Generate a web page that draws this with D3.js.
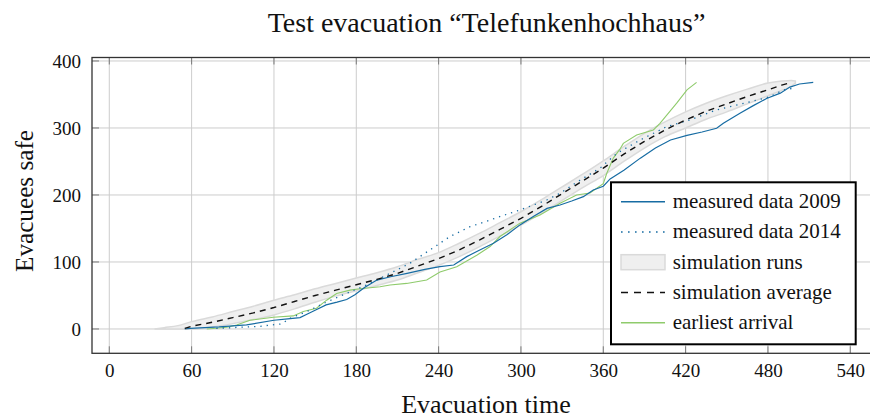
<!DOCTYPE html>
<html>
<head>
<meta charset="utf-8">
<script src="https://cdn.jsdelivr.net/npm/d3@7"></script>
<style>
  html, body { margin: 0; padding: 0; background: #fff; }
  svg { display: block; }
  text { font-family: "Liberation Serif", "Times New Roman", serif; fill: #111; }
</style>
</head>
<body>
<svg id="chart" width="870" height="419"></svg>
<script>
// ---------- data ----------
const xTicks = [0, 60, 120, 180, 240, 300, 360, 420, 480, 540];
const yTicks = [0, 100, 200, 300, 400];

const m2009Time = [55, 59, 80, 100, 120, 130, 139, 144, 150, 158, 166, 173, 179, 186, 195, 205, 217, 230, 241, 251, 260.5, 270, 280, 290, 299, 309, 319, 328.5, 337, 345.5, 352.7, 360, 365, 375, 387, 398, 409, 421, 432, 442.6, 447.5, 459.6, 469, 479, 489, 496, 503, 513];
const m2009Safe = [0, 1, 3, 6, 13, 15, 17, 22, 28, 36, 40, 44, 51, 62, 73, 78, 83, 89, 93, 95.5, 108, 118, 128, 141, 155, 168, 180, 185, 191, 197.5, 207.5, 213, 224, 237, 255, 270, 282, 289, 294, 299.5, 307, 322, 333, 344, 352, 361, 365.7, 368];

const m2014Time = [78, 90, 100, 110, 118, 125.6, 131.7, 145, 156, 170.5, 187.6, 204.6, 219, 233.7, 248.3, 262.9, 273.8, 285, 299.3, 318.8, 328.5, 343, 357.6, 369.8, 386.8, 406.2, 423.2, 442.6, 467, 481.5, 491.2, 497.3];
const m2014Safe = [1, 2, 3, 4, 6, 7.5, 16, 27, 38, 51, 65.7, 83, 98, 118, 138, 152.7, 160, 168, 177.6, 192.5, 202.5, 222, 240, 262, 282, 302, 312, 327, 339, 346.7, 356.7, 359];

const simTime = [33, 40, 50, 60, 75, 90, 105, 120, 135, 150, 165, 180, 195, 210, 225, 240, 255, 270, 285, 300, 315, 330, 345, 360, 375, 390, 405, 420, 435, 450, 465, 480, 490, 497, 500];
const simLow  = [0, 0, 0, 0, 3, 8, 14, 21, 30, 40, 49, 57, 65, 73, 84, 95, 108, 123, 139, 155, 173, 192, 211, 229, 250, 270, 287, 300, 313, 324, 336, 348, 356, 362, 367];
const simHigh = [0, 2, 5, 11, 18, 26, 34, 43, 51, 60, 68, 76, 84, 93, 104, 114, 128, 143, 159, 175, 193, 212, 231, 251, 272, 292, 309, 324, 337, 348, 358, 367, 370, 371, 370];

const avgTime = [55, 60, 75, 90, 105, 120, 135, 150, 165, 180, 195, 210, 225, 240, 255, 270, 285, 300, 315, 330, 345, 360, 375, 390, 405, 420, 435, 450, 465, 480, 490, 497];
const avgSafe = [1, 4, 10, 17, 24, 32, 41, 50, 58, 66, 74, 83, 94, 105, 118, 133, 149, 165, 183, 202, 221, 240, 261, 280, 297, 312, 325, 336, 347, 357, 364, 368];

const earlyTime = [71, 78, 85.5, 92.8, 102.5, 119.5, 134, 141.4, 151, 158.4, 165.7, 175.4, 182.7, 197.3, 204.6, 216.7, 231.3, 241, 253.2, 267.8, 277.5, 284.7, 299.3, 313.9, 328.5, 340.6, 350.3, 360, 362.5, 367.3, 372, 374.6, 384.3, 396.5, 401.3, 413.5, 421, 428];
const earlySafe = [0, 1, 2.5, 6, 13, 17.5, 19.5, 26, 31, 43, 53, 58, 60, 63, 65.7, 68, 73, 85, 93, 110, 123, 138, 158, 170, 187.6, 200, 203, 217, 232, 255, 268, 277, 289.5, 297, 307, 337, 357, 368];

const legendLabels = ["measured data 2009", "measured data 2014", "simulation runs", "simulation average", "earliest arrival"];
const titleText = "Test evacuation \u201CTelefunkenhochhaus\u201D";
const xLabel = "Evacuation time";
const yLabel = "Evacuees safe";

// ---------- styles ----------
const blue = "#176ca3";
const green = "#8fcb6c";

// ---------- layout ----------
const L = 92, R = 871, T = 57.5, B = 353.3;
const x = d3.scaleLinear().domain([-12.6, 555.1]).range([L, R]);
const y = d3.scaleLinear().domain([-36.3, 405.2]).range([B, T]);

const svg = d3.select("#chart");

svg.append("defs").append("clipPath").attr("id", "clip")
  .append("rect").attr("x", L).attr("y", T).attr("width", R - L).attr("height", B - T);

// grid
const grid = svg.append("g");
grid.selectAll(".gx").data(xTicks).join("line")
  .attr("x1", d => x(d)).attr("x2", d => x(d)).attr("y1", T).attr("y2", B)
  .attr("stroke", "#cdcdcd").attr("stroke-width", 1);
grid.selectAll(".gy").data(yTicks).join("line")
  .attr("x1", L).attr("x2", R).attr("y1", d => y(d)).attr("y2", d => y(d))
  .attr("stroke", "#cdcdcd").attr("stroke-width", 1);

// inward ticks
const tk = 7;
const ticks = svg.append("g").attr("stroke", "#7a7a7a").attr("stroke-width", 1);
ticks.selectAll(".tb").data(xTicks).join("line")
  .attr("x1", d => x(d)).attr("x2", d => x(d)).attr("y1", B).attr("y2", B - tk);
ticks.selectAll(".tt").data(xTicks).join("line")
  .attr("x1", d => x(d)).attr("x2", d => x(d)).attr("y1", T).attr("y2", T + tk);
ticks.selectAll(".tl").data(yTicks).join("line")
  .attr("x1", L).attr("x2", L + tk).attr("y1", d => y(d)).attr("y2", d => y(d));

// data
const plot = svg.append("g").attr("clip-path", "url(#clip)");

const bandData = simTime.map((t, i) => ({ t, lo: simLow[i], hi: simHigh[i] }));
plot.append("path").datum(bandData)
  .attr("d", d3.area().x(d => x(d.t)).y0(d => y(d.lo)).y1(d => y(d.hi)).curve(d3.curveMonotoneX))
  .attr("fill", "#efefef").attr("stroke", "#dadada").attr("stroke-width", 1.5);

const line = d3.line().x(d => x(d[0])).y(d => y(d[1]));
const zip = (a, b) => a.map((v, i) => [v, b[i]]);

plot.append("path").datum(zip(earlyTime, earlySafe)).attr("d", line)
  .attr("fill", "none").attr("stroke", green).attr("stroke-width", 1.1);

plot.append("path").datum(zip(m2014Time, m2014Safe)).attr("d", line)
  .attr("fill", "none").attr("stroke", blue).attr("stroke-width", 1.3)
  .attr("stroke-dasharray", "1.3,5").attr("stroke-linecap", "butt");

plot.append("path").datum(zip(m2009Time, m2009Safe)).attr("d", line)
  .attr("fill", "none").attr("stroke", blue).attr("stroke-width", 1.2);

plot.append("path").datum(zip(avgTime, avgSafe)).attr("d", line)
  .attr("fill", "none").attr("stroke", "#111").attr("stroke-width", 1.4)
  .attr("stroke-dasharray", "6,5");

// frame
svg.append("rect").attr("x", L).attr("y", T).attr("width", R - L).attr("height", B - T)
  .attr("fill", "none").attr("stroke", "#333").attr("stroke-width", 1.3);

// axes labels via d3 axes
const xAxis = svg.append("g").attr("transform", `translate(0,${B})`)
  .call(d3.axisBottom(x).tickValues(xTicks).tickSize(0).tickPadding(24).tickFormat(d3.format("d")));
xAxis.select(".domain").remove();
xAxis.selectAll("text").attr("font-size", 19).attr("font-family", "Liberation Serif").attr("fill", "#111")
  .attr("dy", 0).attr("y", 24);

const yAxis = svg.append("g").attr("transform", `translate(${L},0)`)
  .call(d3.axisLeft(y).tickValues(yTicks).tickSize(0).tickPadding(11).tickFormat(d3.format("d")));
yAxis.select(".domain").remove();
yAxis.selectAll("text").attr("font-size", 19).attr("font-family", "Liberation Serif").attr("fill", "#111")
  .attr("dy", "0.34em");

// title & labels
svg.append("text").attr("x", 486.5).attr("y", 32).attr("text-anchor", "middle")
  .attr("font-size", 28).text(titleText);
svg.append("text").attr("x", 486).attr("y", 413).attr("text-anchor", "middle")
  .attr("font-size", 26).text(xLabel);
svg.append("text").attr("transform", "translate(33,201) rotate(-90)").attr("text-anchor", "middle")
  .attr("font-size", 25.2).text(yLabel);

// legend
const lg = svg.append("g");
lg.append("rect").attr("x", 611).attr("y", 182.3).attr("width", 244.7).attr("height", 162)
  .attr("fill", "#fff").attr("stroke", "#000").attr("stroke-width", 2);
const rowY = d3.scaleLinear().domain([0, 4]).range([201.7, 322.7]);
const sx0 = 621, sx1 = 665;
legendLabels.forEach((lab, i) => {
  const cy = rowY(i);
  if (i === 0) {
    lg.append("line").attr("x1", sx0).attr("x2", sx1).attr("y1", cy).attr("y2", cy)
      .attr("stroke", blue).attr("stroke-width", 1.6);
  } else if (i === 1) {
    lg.append("line").attr("x1", sx0).attr("x2", sx1).attr("y1", cy).attr("y2", cy)
      .attr("stroke", blue).attr("stroke-width", 1.6).attr("stroke-dasharray", "1.6,5.4");
  } else if (i === 2) {
    lg.append("rect").attr("x", sx0).attr("y", cy - 7.5).attr("width", sx1 - sx0).attr("height", 15)
      .attr("fill", "#efefef").attr("stroke", "#dadada").attr("stroke-width", 1.5);
  } else if (i === 3) {
    lg.append("line").attr("x1", sx0).attr("x2", sx1).attr("y1", cy).attr("y2", cy)
      .attr("stroke", "#111").attr("stroke-width", 1.6).attr("stroke-dasharray", "7,6");
  } else {
    lg.append("line").attr("x1", sx0).attr("x2", sx1).attr("y1", cy).attr("y2", cy)
      .attr("stroke", green).attr("stroke-width", 1.4);
  }
  lg.append("text").attr("x", 672.7).attr("y", cy).attr("dy", "0.3em")
    .attr("font-size", 21).text(lab);
});
</script>
</body>
</html>
